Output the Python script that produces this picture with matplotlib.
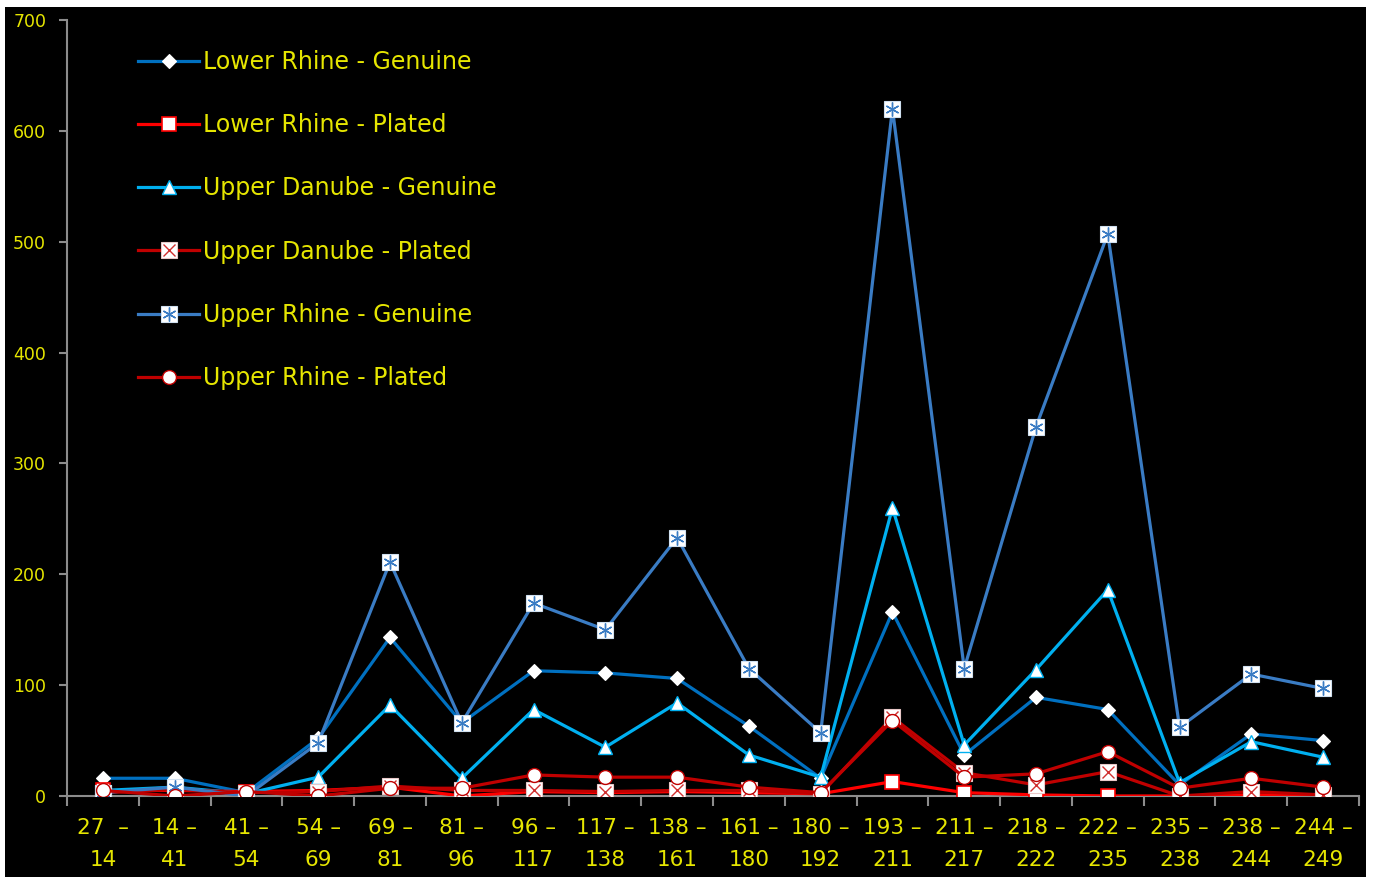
import matplotlib
matplotlib.use("Agg")
from matplotlib import pyplot as plt
from matplotlib.patches import Rectangle

periods = ["27  –\n14", "14 –\n41", "41 –\n54", "54 –\n69", "69 –\n81", "81 –\n96",
           "96 –\n117", "117 –\n138", "138 –\n161", "161 –\n180", "180 –\n192",
           "193 –\n211", "211 –\n217", "218 –\n222", "222 –\n235", "235 –\n238",
           "238 –\n244", "244 –\n249"]

lower_rhine_genuine = [16, 16, 3, 52, 143, 66, 113, 111, 106, 63, 16, 166, 37, 89, 78, 10, 56, 50]
lower_rhine_plated = [5, 5, 4, 5, 8, 0, 4, 3, 4, 3, 2, 13, 3, 1, 0, 0, 1, 1]
upper_danube_genuine = [5, 8, 2, 17, 82, 16, 78, 44, 84, 37, 17, 260, 46, 114, 186, 12, 49, 35]
upper_danube_plated = [3, 6, 3, 4, 9, 5, 5, 4, 5, 5, 2, 71, 21, 10, 22, 0, 4, 1]
upper_rhine_genuine = [3, 8, 0, 48, 211, 66, 174, 150, 233, 115, 57, 620, 115, 333, 507, 62, 110, 97]
upper_rhine_plated = [5, 0, 4, 0, 7, 7, 19, 17, 17, 8, 3, 68, 17, 20, 40, 7, 16, 8]

yellow = "#E6E600"
x = list(range(len(periods)))

fig = plt.figure(figsize=(13.73, 8.77), dpi=100, facecolor="white")
fig.patches.append(Rectangle((5 / 1373, 0), 1361 / 1373, 870 / 877,
                             transform=fig.transFigure, facecolor="black",
                             edgecolor="none", zorder=-10))
ax = fig.add_axes([67 / 1373, 81 / 877, 1292 / 1373, 776 / 877])
ax.set_facecolor("black")

lw = 2.3
handles = []

# Lower Rhine - Genuine
h = ax.plot(x, lower_rhine_genuine, color="#0070C0", lw=lw, marker="D", ms=7,
            mfc="white", mec="white", mew=0.8, zorder=3)[0]
handles.append((h, "Lower Rhine - Genuine"))

# Lower Rhine - Plated
h = ax.plot(x, lower_rhine_plated, color="#FF0000", lw=lw, marker="s", ms=10,
            mfc="white", mec="#FF0000", mew=1.2, zorder=3)[0]
handles.append((h, "Lower Rhine - Plated"))

# Upper Danube - Genuine
h = ax.plot(x, upper_danube_genuine, color="#00B0F0", lw=lw, marker="^", ms=10,
            mfc="white", mec="#00B0F0", mew=1.0, zorder=3)[0]
handles.append((h, "Upper Danube - Genuine"))

# Upper Danube - Plated (square with a cross)
h1 = ax.plot(x, upper_danube_plated, color="#C00000", lw=lw, marker="s", ms=11,
             mfc="white", mec="#E8C8C8", mew=0.8, zorder=3)[0]
h2 = ax.plot(x, upper_danube_plated, ls="none", marker="x", ms=8,
             mec="#D03030", mew=1.0, zorder=3)[0]
handles.append(((h1, h2), "Upper Danube - Plated"))

# Upper Rhine - Genuine (square with an asterisk)
h1 = ax.plot(x, upper_rhine_genuine, color="#3A7CC4", lw=lw, marker="s", ms=11.5,
             mfc="white", mec="#D0E0F0", mew=0.8, zorder=3)[0]
h2 = ax.plot(x, upper_rhine_genuine, ls="none", marker=(6, 2, 0), ms=10,
             mec="#3A7CC4", mew=1.0, zorder=3)[0]
handles.append(((h1, h2), "Upper Rhine - Genuine"))

# Upper Rhine - Plated
h = ax.plot(x, upper_rhine_plated, color="#C00000", lw=lw, marker="o", ms=10,
            mfc="white", mec="#C00000", mew=1.0, zorder=3)[0]
handles.append((h, "Upper Rhine - Plated"))

ax.set_xlim(-0.5, len(periods) - 0.5)
ax.set_ylim(0, 700)
ax.set_yticks(range(0, 701, 100))
ax.set_xticks(x)
ax.set_xticklabels(periods, linespacing=1.75)
ax.set_xticks([i - 0.5 for i in range(len(periods) + 1)], minor=True)

for side in ["top", "right"]:
    ax.spines[side].set_visible(False)
for side in ["left", "bottom"]:
    ax.spines[side].set_color("#8C8C8C")
    ax.spines[side].set_linewidth(1.5)

ax.tick_params(axis="x", which="major", length=0, pad=16, labelsize=15.5, labelcolor=yellow)
ax.tick_params(axis="x", which="minor", length=7, width=1.5, color="#8C8C8C")
ax.tick_params(axis="y", length=6, width=1.5, color="#8C8C8C", labelsize=12.5,
               labelcolor=yellow, pad=9)

leg = ax.legend([hh for hh, _ in handles], [lab for _, lab in handles],
                loc="upper left", bbox_to_anchor=(138 / 1373, 1 - 50 / 877),
                bbox_transform=fig.transFigure, frameon=False, fontsize=17,
                handlelength=2.6, handletextpad=0.15, labelspacing=1.66,
                borderpad=0, borderaxespad=0)
for t in leg.get_texts():
    t.set_color(yellow)

fig.savefig("out.png", dpi=100, facecolor=fig.get_facecolor())
